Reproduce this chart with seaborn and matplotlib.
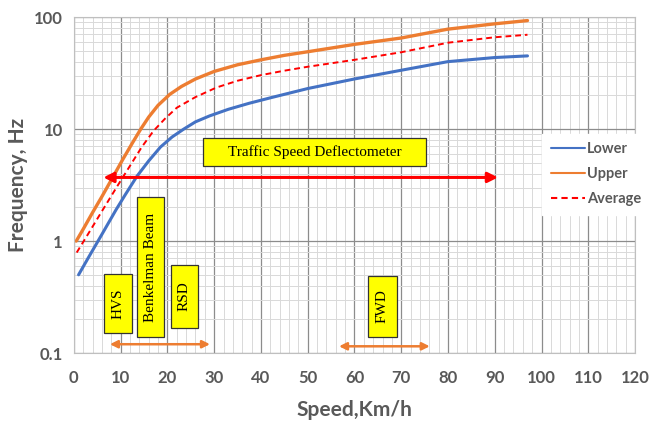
import numpy as np
import pandas as pd
import matplotlib
matplotlib.use("Agg")
import matplotlib.pyplot as plt
from matplotlib.patches import Rectangle
from matplotlib.ticker import MultipleLocator, LogLocator, FixedLocator, NullFormatter
import seaborn as sns

# data
lower_x = [1, 3, 6, 9, 11, 13.5, 16, 18.5, 21, 23.5, 26, 29, 33, 37.5, 42, 50, 60, 70, 80, 90, 97]
lower_y = [0.5, 0.7, 1.15, 1.9, 2.6, 3.8, 5.2, 6.9, 8.5, 10, 11.6, 13.1, 15.0, 17, 19.0, 23, 28, 33.5, 40, 43.5, 45]
upper_x = [0.5, 2, 4, 6, 8.3, 10.5, 12.5, 14.3, 16, 18, 20.5, 23, 26, 30, 35, 40, 45, 50, 60, 70, 80, 90, 97]
upper_y = [1.0, 1.28, 1.8, 2.5, 3.7, 5.4, 7.5, 10, 12.8, 16.3, 20.4, 24, 28, 32.7, 37.5, 41.5, 45.5, 49, 57, 65, 78, 87, 93]
avg_x = [0.6, 3, 6, 9.5, 12, 14.5, 17, 19.5, 22, 26, 30.5, 35, 40, 45, 50, 60, 70, 80, 90, 97]
avg_y = [0.79, 1.15, 1.85, 3.2, 4.7, 6.9, 9.6, 12.4, 15.5, 19.3, 23.5, 27, 30.3, 33.2, 36, 41.5, 48.5, 59, 66, 69.5]

series_names = ["Lower", "Upper", "Average"]
series_colors = ["#4472C4", "#ED7D31", "#FF0000"]

# annotation boxes: label, x0, x1, y0, y1, rotation
boxes = [
    ("Traffic Speed Deflectometer", 27.6, 75.3, 4.67, 8.31, 0),
    ("HVS", 6.4, 12.4, 0.151, 0.507, 90),
    ("Benkelman Beam", 13.4, 19.3, 0.139, 2.47, 90),
    ("RSD", 20.7, 26.6, 0.168, 0.61, 90),
    ("FWD", 63.0, 69.0, 0.14, 0.487, 90),
]
# range arrows: x start, x end, y, colour
arrows = [
    (6.3, 90.7, 3.7, "#FF0000"),
    (7.7, 29.1, 0.12, "#ED7D31"),
    (56.7, 76.1, 0.115, "#ED7D31"),
]

df = pd.concat([
    pd.DataFrame({"Speed": lower_x, "Freq": lower_y, "Series": "Lower"}),
    pd.DataFrame({"Speed": upper_x, "Freq": upper_y, "Series": "Upper"}),
    pd.DataFrame({"Speed": avg_x, "Freq": avg_y, "Series": "Average"}),
])

sns.set_style("white")
plt.rcParams["font.family"] = ["Lato", "DejaVu Sans"]

fig = plt.figure(figsize=(6.54, 4.37), dpi=100)
ax = fig.add_axes([0.113, 0.192, 0.858, 0.769])

ax.set_yscale("log")
ax.set_xlim(0, 120)
ax.set_ylim(0.1, 100)

# grid
ax.xaxis.set_major_locator(MultipleLocator(10))
ax.xaxis.set_minor_locator(MultipleLocator(2))
ax.yaxis.set_major_locator(FixedLocator([0.1, 1, 10, 100]))
ax.yaxis.set_minor_locator(LogLocator(base=10, subs=np.arange(2, 10)))
ax.yaxis.set_minor_formatter(NullFormatter())
ax.grid(which="major", color="#8c8c8c", lw=0.9)
ax.grid(which="minor", color="#d9d9d9", lw=0.7)
ax.set_axisbelow(True)
for s in ax.spines.values():
    s.set_color("#bfbfbf")
    s.set_linewidth(0.8)

sns.lineplot(data=df, x="Speed", y="Freq", hue="Series", style="Series",
             hue_order=series_names, style_order=series_names,
             palette=series_colors, dashes={"Lower": "", "Upper": "", "Average": (3, 2)},
             ax=ax, legend=True, sort=True)
for line, lw in zip(ax.lines[:3], [2.2, 2.4, 1.4]):
    line.set_linewidth(lw)
    line.set_solid_joinstyle("round")

ax.set_yticklabels(["0.1", "1", "10", "100"])
ax.tick_params(axis="both", which="both", length=0, labelsize=12, labelcolor="#595959")
ax.tick_params(axis="x", pad=12)
ax.tick_params(axis="y", pad=8)
for lab in ax.get_xticklabels() + ax.get_yticklabels():
    lab.set_fontweight("bold")

ax.set_xlabel("Speed,Km/h", fontsize=15, fontweight="bold", color="#595959", labelpad=10)
ax.set_ylabel("Frequency, Hz", fontsize=15, fontweight="bold", color="#595959", labelpad=4)

# annotation boxes
for label, x0, x1, y0, y1, rot in boxes:
    ax.add_patch(Rectangle((x0, y0), x1 - x0, y1 - y0, facecolor="#FFFF00",
                           edgecolor="#333333", lw=0.9, zorder=4))
    ax.text((x0 + x1) / 2, np.sqrt(y0 * y1), label, rotation=rot, ha="center", va="center",
            fontsize=11, family="Liberation Serif", color="black", zorder=5)

for xs, xe, y, c in arrows:
    red = c == "#FF0000"
    ax.annotate("", xy=(xe, y), xytext=(xs, y),
                arrowprops=dict(arrowstyle="<|-|>", color=c, lw=2.2 if red else 1.8,
                                mutation_scale=15 if red else 11, shrinkA=0, shrinkB=0), zorder=6)

handles, labels = ax.get_legend_handles_labels()
leg = ax.legend(handles, labels, loc="upper left", bbox_to_anchor=(0.822, 0.675),
                frameon=True, fancybox=False, edgecolor="white", framealpha=1,
                fontsize=10.5, handlelength=2.3, handletextpad=0.15, labelspacing=0.75,
                borderpad=0.6)
for t in leg.get_texts():
    t.set_color("#595959")
    t.set_fontweight("bold")

fig.savefig("out.png", dpi=100)
